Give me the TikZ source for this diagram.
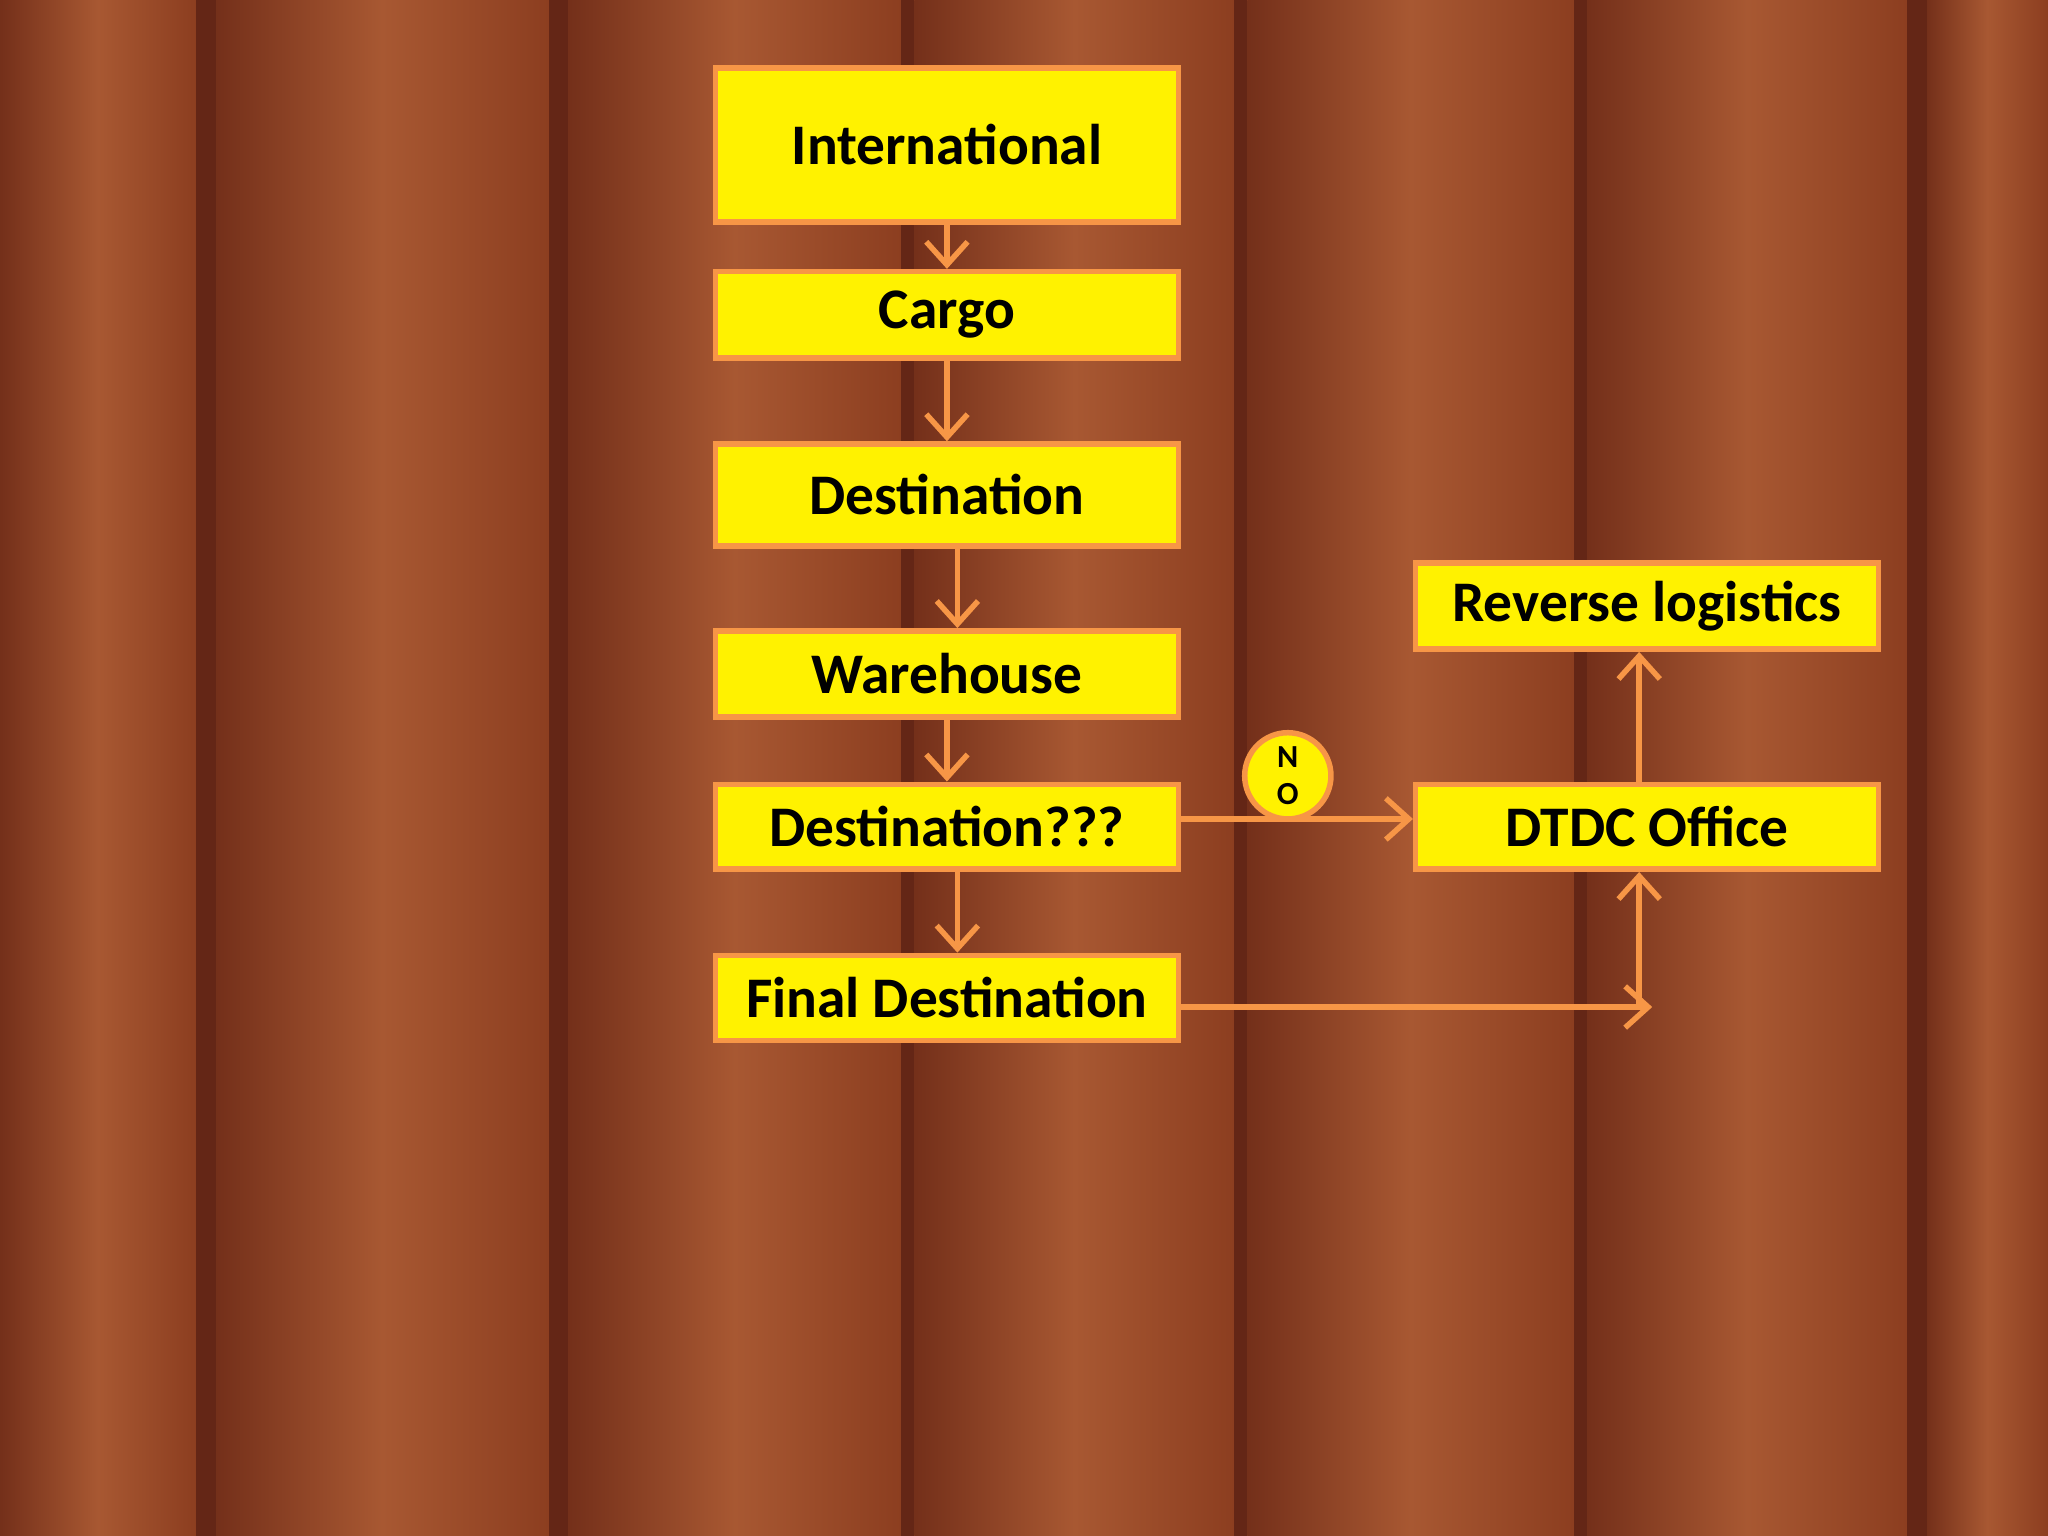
\documentclass[tikz,border=0pt]{standalone}
\usepackage{fontspec}
\setmainfont{Carlito}
\usetikzlibrary{arrows.meta}
\definecolor{wood}{RGB}{140,62,32}
\definecolor{woodd}{RGB}{100,38,22}
\definecolor{woodl}{RGB}{168,88,50}
\definecolor{ob}{RGB}{247,150,70}
\begin{document}
\begin{tikzpicture}[x=0.01cm,y=-0.01cm,
  box/.style={draw=ob,fill=yellow,line width=1.2pt,minimum width=3.54cm,inner sep=0pt,font=\fontsize{12.5}{14}\selectfont\bfseries},
  arr/.style={draw=ob,line width=1.2pt,-{Straight Barb[length=5pt,width=9pt,line width=1.2pt]}}]
\useasboundingbox (0,0) rectangle (1568,1176);
\fill[wood] (0,0) rectangle (1568,1176);
\foreach \a/\b in {0/150,165/420,435/690,700/945,955/1205,1215/1460,1475/1568}
  \shade[left color=woodd!60!wood,right color=wood,middle color=woodl] (\a,0) rectangle (\b,1176);
\foreach \a/\b in {150/165,420/435,690/700,945/955,1205/1215,1460/1475}
  \fill[woodd] (\a,0) rectangle (\b,1176);
\node[box,minimum height=1.18cm] (int) at (725,111) {International};
\node[box,minimum height=0.66cm] (cargo) at (725,241) {Cargo};
\node[box,minimum height=0.78cm] (dest) at (725,379) {Destination};
\node[box,minimum height=0.66cm] (ware) at (725,516) {Warehouse};
\node[box,minimum height=0.65cm] (dq) at (725,633) {Destination???};
\node[box,minimum height=0.65cm] (fin) at (725,764) {Final Destination};
\node[box,minimum height=0.66cm] (rev) at (1261,464) {Reverse logistics};
\node[box,minimum height=0.65cm] (dtdc) at (1261,633) {DTDC Office};
\node[draw=ob,fill=yellow,line width=1.2pt,circle,minimum size=0.66cm,inner sep=0pt,align=center,font=\fontsize{7}{8}\selectfont\bfseries] (no) at (986,594) {N\\O};
\coordinate (fe) at (1265,771);
\draw[arr] (int.south) -- (cargo.north);
\draw[arr] (cargo.south) -- (dest.north);
\draw[arr] (dest.south -| 733,0) -- (ware.north -| 733,0);
\draw[arr] (ware.south) -- (dq.north);
\draw[arr] (dq.south -| 733,0) -- (fin.north -| 733,0);
\draw[arr] (dq.east |- 0,627) -- (dtdc.west |- 0,627);
\draw[arr] (fin.east |- 0,771) -- (fe);
\draw[arr] (1255,771) -- (dtdc.south -| 1255,0);
\draw[arr] (dtdc.north -| 1255,0) -- (rev.south -| 1255,0);
\end{tikzpicture}
\end{document}
